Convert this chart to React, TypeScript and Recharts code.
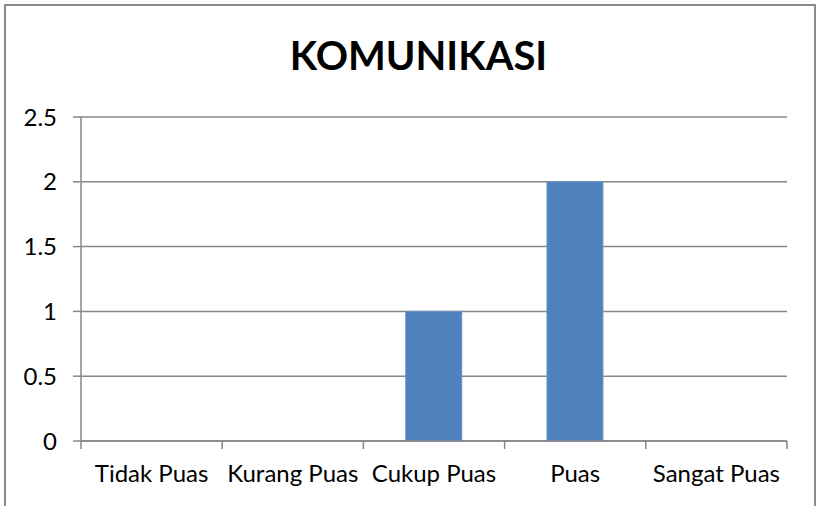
import React from 'react';
import { BarChart, Bar, XAxis, YAxis, CartesianGrid } from 'recharts';

const categories = ['Tidak Puas', 'Kurang Puas', 'Cukup Puas', 'Puas', 'Sangat Puas'];
const values = [0, 0, 1, 2, 0];
const yTicks = [0, 0.5, 1, 1.5, 2, 2.5];

const data = categories.map((name, i) => ({ name, value: values[i] }));

// the numeric helper axis spans the category indices, so put ticks on the category edges
const lastIndex = categories.length - 1;
const boundaryTicks = [0, 1, 2, 3, 4, 5].map((k) => (k * lastIndex) / categories.length);

document.body.style.margin = '0';

const FONT = 'Lato, "Open Sans", sans-serif';
const GRID = '#878787';

const EmptyTick = () => <g />;

export default function App() {
  return (
    <div style={{ position: 'relative', width: 817, height: 506, overflow: 'hidden', background: '#fff', fontFamily: FONT }}>
      <div
        style={{
          position: 'absolute',
          left: 4,
          top: 4,
          width: 808,
          height: 540,
          border: '2px solid #8a8a8a',
        }}
      />
      <div
        style={{
          position: 'absolute',
          left: 0,
          width: 837,
          top: 31,
          textAlign: 'center',
          fontWeight: 'bold',
          fontSize: 40,
          lineHeight: '48px',
          color: '#000',
        }}
      >
        KOMUNIKASI
      </div>
      <div style={{ position: 'absolute', left: 0, top: 0 }}>
        <BarChart
          width={817}
          height={506}
          data={data}
          margin={{ top: 117, right: 30, bottom: 25, left: 0 }}
          barCategoryGap="30%"
        >
          <CartesianGrid vertical={false} stroke={GRID} strokeWidth={1.5} />
          <XAxis
            xAxisId={0}
            type="number"
            orientation="bottom"
            domain={[0, lastIndex]}
            allowDataOverflow
            ticks={boundaryTicks}
            interval={0}
            tick={EmptyTick}
            height={1}
            stroke={GRID}
            strokeWidth={1.5}
            tickSize={8}
          />
          <XAxis
            dataKey="name"
            xAxisId={1}
            orientation="bottom"
            axisLine={false}
            tickLine={false}
            height={39}
            tickMargin={17}
            tick={{ fill: '#000', fontSize: 24, fontFamily: FONT }}
            interval={0}
          />
          <YAxis
            domain={[0, 2.5]}
            ticks={yTicks}
            width={81}
            stroke={GRID}
            strokeWidth={1.5}
            tickSize={8}
            tickMargin={16}
            tick={{ fill: '#000', fontSize: 24, fontFamily: FONT }}
          />
          <Bar dataKey="value" xAxisId={1} fill="#4F81BD" stroke="#6a95c8" strokeWidth={1} isAnimationActive={false} />
        </BarChart>
      </div>
    </div>
  );
}
